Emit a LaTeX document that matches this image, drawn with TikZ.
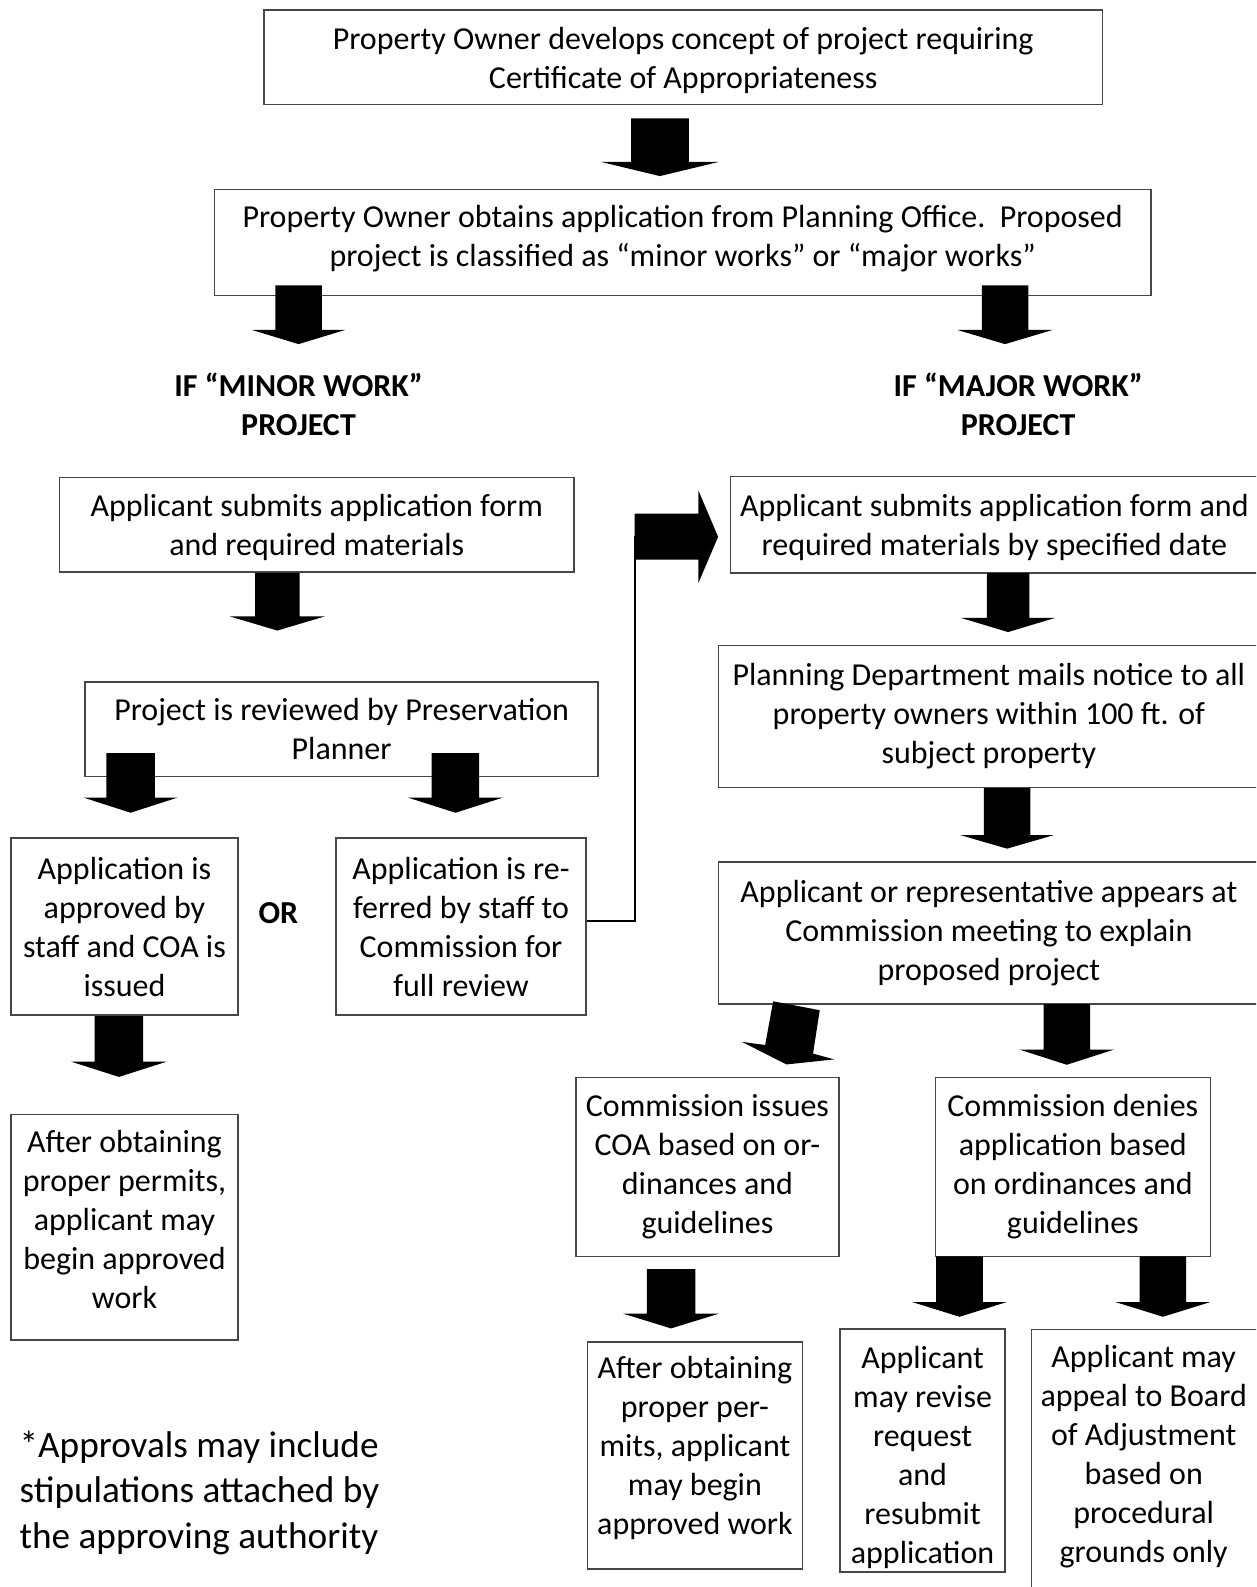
\documentclass[tikz,border=0pt]{standalone}
\usepackage{fontspec}
\setmainfont{Carlito}
\newcommand\mainfnt{\fontsize{15.8pt}{19.25pt}\selectfont}
\newcommand\notefnt{\fontsize{18.4pt}{22.5pt}\selectfont}
\newcommand\topstrut[1]{\rule{0pt}{#1}}
\newcommand\botstrut[1]{\rule[-#1]{0pt}{0pt}}
\newcommand\blkarrow[6]{%
  \fill[black] (#1-#5,#2) -- (#1+#5,#2) -- (#1+#5,#3) -- (#1+#6,#3) -- (#1,#4) -- (#1-#6,#3) -- (#1-#5,#3) -- cycle;}
\tikzset{
  box/.style={draw=black!72, line width=0.7pt, inner sep=0pt, align=center, font=\mainfnt},
  bx/.style 2 args={minimum width=#1*0.5pt, minimum height=#2*0.5pt},
  plain/.style={inner sep=0pt, align=center, font=\mainfnt},
  headtxt/.style={inner sep=0pt, align=center, font=\mainfnt\bfseries},
  conn/.style={draw=black, line width=1pt},
}
\begin{document}
\begin{tikzpicture}[x=0.5pt, y=-0.5pt]
\useasboundingbox (0,0) rectangle (1241,1568);
\clip (0,0) rectangle (1241,1568);
% boxes
\node[box, bx={828}{93}] (A) at (675,56.5) {\topstrut{13.9pt}Property Owner develops concept of project requiring\\Certificate of Appropriateness};
\node[box, bx={925}{105}] (B) at (674.5,239.5) {Property Owner obtains application from Planning Office.\ \ Proposed\\project is classified as “minor works” or “major works”\botstrut{6.5pt}};
\node[headtxt] (minor) at (295,399.5) {IF “MINOR WORK”\\PROJECT};
\node[headtxt] (major) at (1006,399.5) {IF “MAJOR WORK”\\PROJECT};
\node[box, bx={508}{93}] (C) at (313,518.5) {\topstrut{13.9pt}Applicant submits application form\\and required materials};
\node[box, bx={507}{93}] (D) at (337.5,720.5) {Project is reviewed by Preservation\\Planner};
\node[box, bx={224}{175}] (E) at (123,915.5) {Application is\\approved by\\staff and COA is\\issued};
\node[headtxt] (or) at (275,902) {OR};
\node[box, bx={247}{175}] (F) at (455.5,915.5) {Application is re-\\ferred by staff to\\Commission for\\full review};
\node[box, bx={224}{223}] (P) at (123,1212.5) {After obtaining\\proper permits,\\applicant may\\begin approved\\work\botstrut{8pt}};
\node[box, bx={521}{95}] (G) at (982.5,518.5) {\topstrut{13.9pt}Applicant submits application form and\\required materials by specified date};
\node[box, bx={534}{140.5}] (H) at (977,708) {Planning Department mails notice to all\\property owners within 100 ft. of\\subject property};
\node[box, bx={534}{140.5}] (I) at (977,921.75) {Applicant or representative appears at\\Commission meeting to explain\\proposed project};
\node[box, bx={260}{176.7}] (J) at (699,1153) {Commission issues\\COA based on or-\\dinances and\\guidelines};
\node[box, bx={272}{176.7}] (K) at (1060,1153) {Commission denies\\application based\\on ordinances and\\guidelines};
\node[box, bx={212}{224}] (L) at (686.6,1438) {After obtaining\\proper per-\\mits, applicant\\may begin\\approved work\botstrut{9.5pt}};
\node[box, bx={163}{240}] (M) at (911.5,1433) {\topstrut{17.9pt}Applicant\\may revise\\request\\and\\resubmit\\application};
\draw[draw=black!72, line width=0.7pt] (1019,1313.5) rectangle (1244,1580);
\node[plain] (N) at (1130,1439) {Applicant may\\appeal to Board\\of Adjustment\\based on\\procedural\\grounds only};
\node[inner sep=0pt, anchor=west, align=left, font=\notefnt] (note) at (19,1475) {*Approvals may include\\stipulations attached by\\the approving authority};
% block arrows
\blkarrow{652}{117}{160}{174}{28.5}{58}
\blkarrow{295}{282}{326}{340}{23}{46}
\blkarrow{993}{282}{326}{340}{23}{47}
\blkarrow{274}{566}{609}{623}{22}{47}
\blkarrow{129}{744}{788}{803}{24}{46.5}
\blkarrow{450}{744}{788}{803}{23.5}{47}
\blkarrow{117.5}{1004}{1049}{1064}{24}{47}
\blkarrow{996}{566}{610.5}{624.5}{21}{46.5}
\blkarrow{995}{778.5}{825}{838.5}{23}{46.5}
\blkarrow{1054}{992}{1037}{1052}{23}{46.7}
\blkarrow{663}{1254}{1298}{1312.5}{24}{47}
\blkarrow{948}{1241.4}{1286.5}{1301}{23}{46.5}
\blkarrow{1149}{1241.4}{1286.5}{1301}{23}{46.7}
% tilted arrow I -> J
\fill[black] (763.9,989.3) -- (809.9,998.1) -- (803.3,1041) -- (824.3,1046.7) -- (777,1051.7) -- (733.1,1029.4) -- (756,1032.5) -- cycle;
% connector F -> big arrow -> G
\coordinate (bigtail) at (627,530);
\draw[conn] ([yshift=2.75pt]F.east) -| (bigtail);
\fill[black] (627,507.5) -- (690,507.5) -- (690,484.5) -- (709.5,530.4) -- (690,576) -- (690,553) -- (627,553) -- cycle;
\end{tikzpicture}
\end{document}
